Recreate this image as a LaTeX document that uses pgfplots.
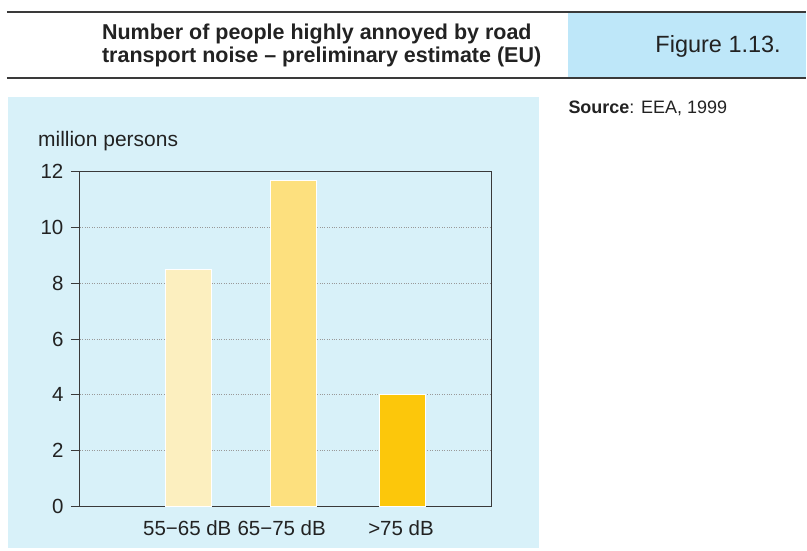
\documentclass[border=0pt]{standalone}
\usepackage{pgfplots}
\pgfplotsset{compat=1.18}
\usepackage{fontspec}
\setmainfont{Liberation Sans}
\definecolor{panel}{HTML}{D8F1F9}
\definecolor{headbox}{HTML}{BEE7F9}
\definecolor{rulecol}{HTML}{3A3A3A}
\definecolor{barA}{HTML}{FCEFBF}
\definecolor{barB}{HTML}{FDE07E}
\definecolor{barC}{HTML}{FCC70B}
\definecolor{txt}{HTML}{222222}
\begin{document}
\begin{tikzpicture}
\fill[panel] (8pt,-97pt) rectangle (540pt,-549pt);
\fill[headbox] (569pt,-12pt) rectangle (807pt,-78pt);
\draw[line width=2pt, rulecol] (7pt,-12pt) -- (807pt,-12pt);
\draw[line width=2pt, rulecol] (7pt,-78pt) -- (807pt,-78pt);
\node[anchor=west, inner sep=0pt, font=\bfseries\fontsize{21.5}{23}\selectfont, align=left, text=txt] at (102pt,-45.5pt) {Number of people highly annoyed by road\\transport noise – preliminary estimate (EU)};
\node[font=\fontsize{23.5}{26}\selectfont, text=txt] at (719pt,-46pt) {Figure 1.13.};
\node[anchor=base west, inner sep=0pt, font=\fontsize{18}{20}\selectfont, text=txt] at (569pt,-114pt) {\textbf{Source}: EEA, 1999};
\node[anchor=base west, inner sep=0pt, font=\fontsize{21}{24}\selectfont, text=txt] at (38pt,-147pt) {million persons};
\begin{axis}[
  at={(80pt,-507pt)}, anchor=south west,
  scale only axis, width=412pt, height=335pt,
  xmin=80, xmax=492, ymin=0, ymax=12,
  ytick={0,2,...,12},
  xtick={187.5,282,401.5},
  xticklabels={55−65 dB, 65−75 dB, >75 dB},
  /pgf/number format/assume math mode=true,
  tick label style={font=\fontsize{20.5}{24}\selectfont, text=txt},
  xtick style={draw=none},
  ytick pos=left,
  xtick pos=bottom,
  tick align=outside,
  major tick length=9pt,
  ytick style={line width=1pt, color=rulecol},
  yticklabel style={xshift=-4pt},
  xticklabel style={yshift=-2pt},
  axis line style={line width=1.1pt, color=rulecol},
  ymajorgrids,
  grid style={dotted, line width=1pt, color=black!40},
  axis background/.style={fill=panel},
]
\addplot[ybar, bar width=46pt, fill=barA, draw=white, line width=1pt] coordinates {(189,8.5)};
\addplot[ybar, bar width=46pt, fill=barB, draw=white, line width=1pt] coordinates {(294,11.7)};
\addplot[ybar, bar width=46pt, fill=barC, draw=white, line width=1pt] coordinates {(403,4.0)};
\end{axis}
\path[use as bounding box] (0pt,0pt) rectangle (807pt,-551pt);
\end{tikzpicture}
\end{document}
